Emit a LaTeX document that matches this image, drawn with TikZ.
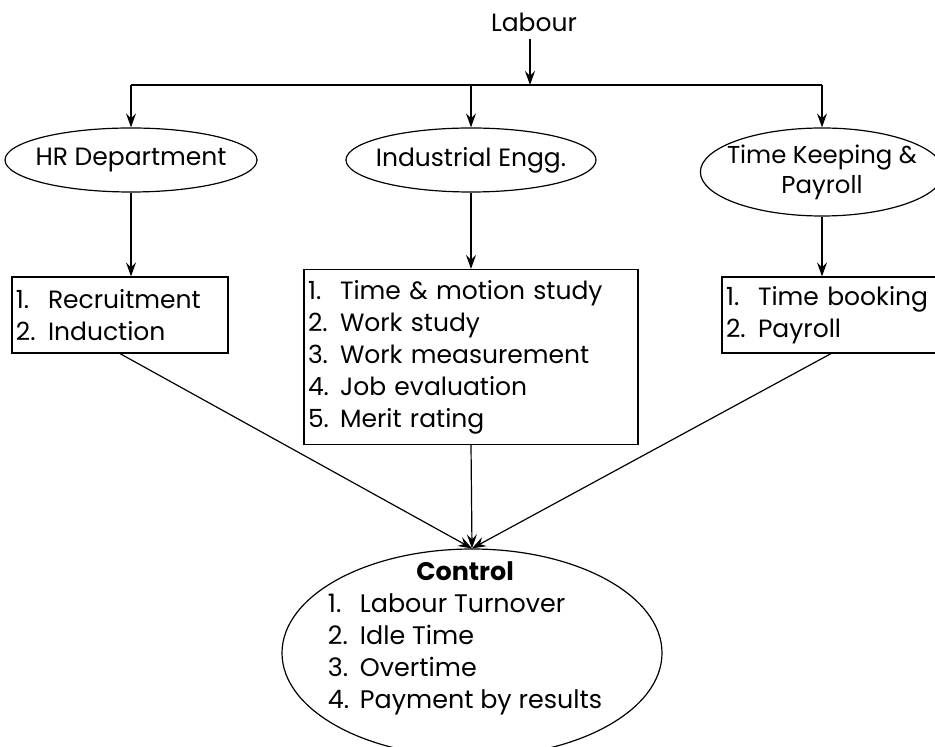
\documentclass[tikz,border=0pt]{standalone}
\usepackage{fontspec}
\setmainfont{Poppins}
\usetikzlibrary{shapes.geometric,arrows.meta}
\newcommand{\lnum}[1]{\makebox[16pt][l]{#1.}}
\tikzset{
  oval/.style={ellipse, draw, inner xsep=-4pt, inner ysep=0pt},
  listbox/.style={draw, rectangle, align=left, inner xsep=2pt, inner ysep=0pt},
}
\begin{document}
\begin{tikzpicture}[x=0.5pt, y=-0.5pt, >={Stealth[length=7pt,width=5pt,inset=2.5pt]},
  line width=0.6pt, font=\fontsize{12.5}{16}\selectfont]
\useasboundingbox (0,0) rectangle (935,747);
\node (labour) at (534,22) {Labour};
\coordinate (split) at (530,85);
\node[oval, minimum width=126pt, minimum height=32pt] (hr) at (131,160) {HR Department};
\node[oval, minimum width=125pt, minimum height=32pt] (ie) at (471,160) {Industrial Engg.};
\node[oval, inner xsep=-4.5pt, minimum width=118pt, minimum height=44pt, align=center,
  font=\fontsize{12.2}{15}\selectfont] (tk) at (822,172) {Time Keeping \&\\Payroll};
\node[listbox, text width=104pt, minimum height=38pt] (hrbox) at (120,315)
  {\lnum{1}Recruitment\\\lnum{2}Induction};
\node[listbox, text width=163pt, minimum height=87.5pt] (iebox) at (471,357)
  {\lnum{1}Time \& motion study\\\lnum{2}Work study\\\lnum{3}Work measurement\\\lnum{4}Job evaluation\\\lnum{5}Merit rating};
\node[listbox, text width=105pt, minimum height=38pt] (tkbox) at (831,315)
  {\lnum{1}Time booking\\\lnum{2}Payroll};
\node[oval, minimum width=190pt, minimum height=104pt] (ctrl) at (472,653) {};
\node[font=\fontsize{12.7}{16}\selectfont] (ctrltext) at (465,638)
  {\begin{tabular}{@{}l@{}}\multicolumn{1}{c}{\textbf{Control}}\\
   \lnum{1}Labour Turnover\\\lnum{2}Idle Time\\\lnum{3}Overtime\\\lnum{4}Payment by results\end{tabular}};

% labour splits into three departments
\draw[->] (split |- labour.south) -- (split);
\draw (hr.north |- split) -- (tk.north |- split);
\foreach \n in {hr,ie,tk}
{
    \draw[->] (\n.north |- split) -- (\n.north);
}
\draw[->] (hr.south) -- (hr.south |- hrbox.north);
\draw[->] (ie.south) -- (ie.south |- iebox.north);
\draw[->] (tk.south) -- (tk.south |- tkbox.north);

% all feed into control
\foreach \n in {hrbox,iebox,tkbox}
{
    \draw[->] (\n.south) -- (ctrl.north);
}
\end{tikzpicture}
\end{document}
